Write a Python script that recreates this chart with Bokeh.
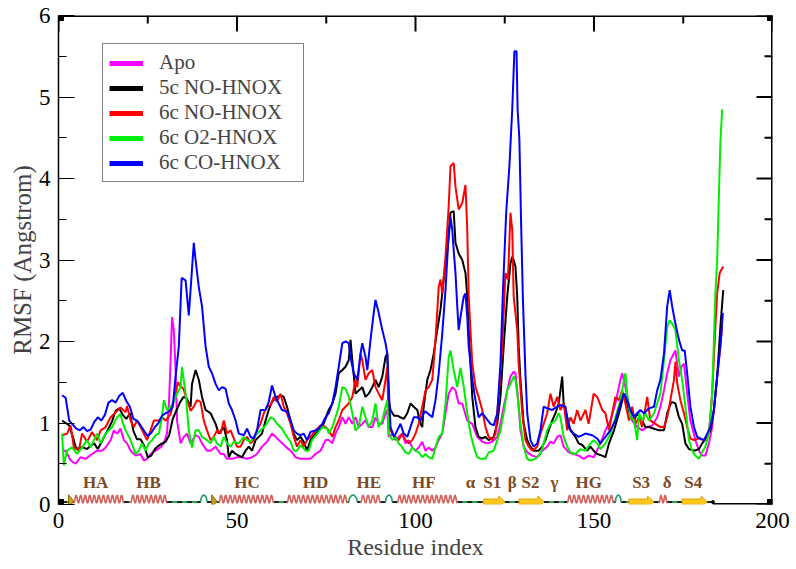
import numpy as np
from bokeh.plotting import figure
from bokeh.models import Range1d, LinearAxis, SingleIntervalTicker, Legend, LegendItem, ColumnDataSource
from bokeh.core.properties import value
from bokeh.embed import file_html
from bokeh.resources import INLINE

# ---------------- data ----------------
apo_x = [1, 2, 3.4, 4.8, 6.2, 7.6, 9.4, 10.8, 12.2, 13.2, 14.6, 15.5, 16.4, 17.4, 18.3, 19.2, 20.2, 21.6, 23, 23.9,
         24.8, 25.8, 27.2, 28.6, 29.5, 30.4, 31, 31.4, 31.8, 32.3, 32.8, 33.2, 34.2, 35.1, 36, 37,
         38.4, 39.3, 40.2, 41.6, 42.6, 44.0, 45.4, 46.3, 47.2, 48.6, 50.0, 51.4, 52.8, 54.2, 55.6, 57.0, 58.4, 59.8,
         60.8, 62.2, 63.6, 65.0, 66.4, 67.8, 69.2, 70.6, 72.0, 73.4, 74.8,
         75.7, 76.7, 77.6, 78.5, 79.5, 80.4, 81.3, 82.3, 83.2, 84.1, 85.1, 86.0, 86.9, 87.9, 88.8, 89.7, 90.7, 91.6,
         92.1, 92.5, 93.5, 94.4, 95.3, 96.3, 97.2, 98.1, 99.1, 100.0, 100.9, 101.9, 102.8, 103.7, 104.7, 105.6, 106.5,
         107.5, 108.4, 109.3, 110.3, 111.2, 112.1, 113.1,
         114.5, 115.9, 117.3, 118.7, 120.1, 121.5, 122.9, 123.8, 124.7, 125.7, 126.6, 127.5, 128.0, 128.7, 129.4,
         130.3, 131.3, 132.7, 134.1, 135.5, 136.9, 137.8, 138.7, 139.7, 140.6, 141.5, 142.9, 144.3, 145.7, 147.1,
         148.5, 149.9,
         151.8, 153.2, 154.6, 156.0, 157.4, 157.9, 158.8, 159.8, 160.7, 162.1, 163.5, 164.9, 166.3, 167.7, 168.6,
         169.6, 170.5, 171.4, 172.8, 173.8, 174.5, 175.2, 176.1, 177.0, 178.4, 179.4, 180.3, 181.2, 182.2, 183.1,
         184.0, 185.0, 185.9]
apo_y = [.66, .66, .54, .50, .58, .56, .62, .66, .66, .70, .79, .91, .87, .93, .79, .75, .66, .60, .62, .54,
         .56, .62, .66, .70, .75, .87, 1.3, 1.77, 2.30, 2.14, 1.65, 1.03, .75, .83, .87, .75,
         .85, .83, .75, .66, .66, .71, .62, .62, .56, .56, .58, .58, .56, .58, .62, .71, .77, .87,
         .83, .77, .71, .66, .58, .56, .56, .56, .62, .66, .79,
         .79, .75, .87, .95, 1.07, .99, 1.07, .99, 1.07, .95, .99, 1.03, .95, .95, 1.07, .99, .99, 1.12,
         1.16, .83, .87, .79, .83, .87, .75, .79, .70, .66, .70, .77, .66, .70, .66, .70, .79,
         .87, 1.12, 1.36, 1.44, 1.40, 1.24, 1.24,
         1.03, .99, .83, .77, .75, .77, .83, .99, 1.20, 1.40, 1.57, 1.63, 1.61, 1.32, .91,
         .71, .64, .60, .58, .66, .71, .77, .75, .83, .85, .71, .64, .62, .60, .56,
         .60, .58,
         .75, .91, 1.03, 1.24, 1.53, 1.61, 1.44, 1.20, 1.03, .95, .91, .95, .97, 1.07, 1.20,
         1.40, 1.61, 1.77, 1.89, 1.57, 1.69, 1.73, 1.36, 1.03, .79, .66, .60, .60, .75, .95,
         1.36, 1.77, 2.18]

no5_x = [1, 2, 3, 4, 5, 6, 7, 8, 9, 10, 11, 12, 13, 14, 15, 16, 17, 18, 19, 20, 21, 22, 23, 24, 25, 26, 27, 28, 29,
         30, 31, 32, 33, 34, 35, 36, 37,
         37.4, 38.4, 39.3, 40.2, 41.2, 42.6, 44.0, 44.9, 46.3, 47.2, 47.7, 48.6, 49.6, 50.5, 51.4, 52.4, 53.3, 54.2,
         55.2, 56.1, 57.0, 58.0, 58.9, 59.8, 61.2, 62.2, 63.1, 64.0, 65.0, 65.9, 66.8, 67.8, 68.7, 69.6, 70.6, 72.0,
         72.9, 73.9,
         75.7, 76.7, 77.6, 78.5, 79.5, 80.4, 81.3, 81.8, 82.3, 83.2, 84.1, 85.1, 86.0, 86.9, 87.9, 88.8, 89.7, 90.7,
         91.6, 92.1, 92.5, 93.0, 94.0, 94.9, 95.8, 96.7, 97.7, 98.6, 99.5, 100.5, 101.4, 101.9, 102.3, 103.3, 104.2,
         105.1, 106.1, 107.0, 107.9, 108.9, 109.8, 110.7, 111.2, 112.1, 113.1, 114.0,
         114.5, 114.9, 115.4, 115.9, 116.8, 117.7, 118.7, 119.6, 120.5, 121.9, 122.9, 123.8, 124.7, 125.7, 126.6,
         127.1, 127.5, 128.0, 128.5, 128.9, 129.4, 130.3, 131.3, 132.2, 133.1, 134.5, 135.5, 136.4, 137.3, 138.3,
         139.2, 140.1, 140.6, 141.1, 141.5, 142.5, 143.4, 144.8, 145.7, 146.7, 148.1, 149.0, 149.9,
         150.9, 152.3, 153.2, 154.2, 155.6, 157.0, 158.4, 159.3, 160.2, 161.2, 162.1, 163.0, 164.4, 165.4, 166.8,
         168.2, 169.6, 170.5, 171.7, 172.8, 173.8, 174.7, 175.6, 176.6, 178.0, 179.4, 180.3, 181.7, 182.6, 183.6,
         184.5, 185.4, 186.2]
no5_y = [1.03, 1.0, .97, .83, .68, .70, .70, .68, .72, .75, .68, .76, .85, .93, 1.02, 1.15, 1.18, 1.10, 1.05, 1.12,
         .90, .80, .80, .72, .58, .60, .68, .72, .75, .77, .85, 1.05, 1.15, 1.25, 1.32, 1.30, 1.20,
         1.48, 1.65, 1.53, 1.32, 1.16, 1.12, .99, .87, .95, .79, .58, .66, .62, .60, .58, .66, .71, .66,
         .79, .83, .87, 1.03, 1.16, 1.26, 1.32, 1.34, 1.32, 1.20, 1.03, .87, .79, .83, .77, .66, .79, .87,
         .91, .95,
         1.16, 1.24, 1.36, 1.61, 1.65, 1.69, 1.77, 2.02, 1.77, 1.36, 1.40, 1.44, 1.32, 1.36, 1.44, 1.53, 1.44, 1.57,
         1.81, 1.85, 1.28, 1.16, 1.09, 1.09, 1.07, 1.05, 1.12, 1.24, 1.20, 1.16, .99, .95, 1.20, 1.53, 1.65,
         1.85, 2.14, 2.39, 2.76, 3.12, 3.58, 3.60, 3.21, 3.08, 3.0, 2.84,
         2.55, 2.14, 1.73, 1.32, .95, .83, .81, .83, .79, .83, .99, 1.32, 1.94, 2.55, 2.96,
         3.04, 3.0, 2.92, 2.55, 1.94, 1.53, .99, .79, .71, .66, .66, .71, .79, .91, 1.03,
         1.12, 1.24, 1.40, 1.57, 1.24, 1.07, .91, .83, .75, .73, .66, .71, .66,
         .62, .60, .58, .75, .91, 1.12, 1.36, 1.24, 1.07, 1.03, 1.12, 1.07, .95, .95, .93,
         .91, .91, 1.12, 1.26, 1.24, 1.07, .99, .75, .68, .66, .68, .75, .83, .91, 1.16,
         1.57, 2.18, 2.63]

no6_x = [1, 2.4, 3.4, 4.3, 5.7, 6.6, 8, 9.4, 10.8, 11.8, 13.2, 14.6, 16, 17.4, 18.8, 19.2, 20.2, 21.1, 22, 23,
         23.9, 24.8, 25.8, 26.7, 28.1, 29, 30, 31.4, 32.8, 33.5, 34.2, 35, 36, 37,
         37.9, 38.8, 39.8, 40.7, 41.6, 42.6, 43.5, 44.4, 45.4, 46.3, 47.2, 48.2, 49.1, 50.0, 51.0, 51.9, 52.8, 53.8,
         54.7, 55.6, 56.6, 57.5, 58.4, 59.4, 60.3, 61.2, 62.2, 63.1, 64.0, 65.0, 65.9, 66.8, 67.8, 68.7, 69.6, 70.6,
         72.0, 73.4, 74.8,
         75.7, 76.7, 77.6, 78.5, 79.5, 80.4, 81.3, 82.3, 83.2, 83.7, 84.6, 85.1, 86.0, 86.9, 87.9, 88.8, 89.7, 90.7,
         91.6, 92.1, 92.5, 93.5, 94.4, 95.3, 96.3, 97.2, 98.1, 99.1, 100.0, 100.9, 101.9, 102.8, 103.7, 104.7, 105.6,
         106.5, 107.0, 107.5, 108.4, 109.3, 109.8, 110.7, 111.2, 112.1, 113.1, 114.0,
         114.5, 114.9, 115.9, 116.8, 117.7, 118.7, 119.6, 120.5, 121.5, 122.4, 123.3, 124.3, 125.2, 125.9, 126.6,
         127.1, 127.5, 128.5, 128.9, 129.9, 130.8, 131.7, 132.7, 134.1, 135.0, 135.9, 136.9, 137.8, 138.7, 139.7,
         140.6, 141.5, 142.5, 143.4, 144.3, 145.3, 146.2, 147.6, 148.5, 149.9, 150.9,
         152.3, 153.2, 154.2, 155.1, 156.0, 157.0, 157.9, 158.8, 159.8, 160.7, 161.6, 162.6, 163.5, 164.9, 165.8,
         167.2, 168.6, 169.6, 170.5, 171.4, 172.4, 172.8, 173.3, 174.2, 175.2, 176.1, 177.0, 178.0, 179.4, 180.8,
         182.2, 183.1, 184.0, 184.5, 185.2, 186.2]
no6_y = [.85, .87, .97, .70, .66, .87, .77, .89, .79, .91, .95, 1.07, 1.13, 1.19, 1.13, 1.21, 1.03, .95, 1.03, .95,
         .87, .79, .91, 1.03, 1.03, 1.07, 1.03, 1.11, 1.36, 1.50, 1.45, 1.42, 1.28, 1.15,
         1.2, 1.28, 1.26, 1.03, .91, .79, .83, .91, .87, 1.03, .87, .91, .81, .71, .71, .79, .83, .75,
         .79, .91, .99, 1.12, 1.2, 1.22, 1.32, 1.26, 1.36, 1.2, 1.12, .99, .83, .71, .79, .71, .79, .83,
         .91, .97, .95,
         .91, .83, .95, 1.03, 1.16, 1.20, 1.24, 1.32, 1.53, 1.44, 1.85, 1.77, 1.53, 1.61, 1.65, 1.44, 1.36, 1.28,
         1.53, 1.69, .95, .87, .83, .79, .87, .79, .75, .79, .87, .99, 1.20, 1.40, 1.44, 1.53, 2.02,
         2.67, 2.76, 2.59, 3.04, 3.66, 4.15, 4.19, 3.90, 3.62, 3.70, 3.92,
         3.37, 2.55, 1.73, 1.44, 1.32, 1.16, .95, .83, .79, .87, 1.32, 1.94, 2.84, 2.76, 3.58,
         3.37, 2.55, 2.14, 1.73, 1.12, .79, .71, .66, .71, .87, .99, 1.12, 1.36, 1.20, 1.32,
         1.16, 1.24, .91, 1.07, .99, 1.16, 1.03, 1.16, .99, 1.36, 1.32,
         1.16, 1.12, .91, 1.12, 1.32, 1.28, 1.40, 1.24, 1.03, 1.20, .99, 1.07, .95, 1.32, 1.03,
         .99, .95, .95, 1.07, 1.28, 1.53, 1.75, 1.49, 1.28, 1.12, .95, .81, .79, .81, .79,
         .87, 1.36, 2.18, 2.59, 2.84, 2.92]

o2_x = [1, 1.5, 2.4, 3.8, 5.2, 6.6, 8, 9, 9.9, 10.8, 11.8, 13.2, 14.1, 15, 16.4, 17.4, 17.8, 18.8, 20.2, 21.6,
        22.5, 23.4, 24.4, 25.3, 26.2, 27.2, 28.1, 29, 29.5, 30.4, 31.4, 32.3, 33.2, 34.2, 34.6, 35.6, 36.5, 37.4,
        38.4, 39.3, 40.2, 41.6, 42.6, 43.5, 44.4, 45.4, 46.3, 47.2, 48.2, 49.1, 50.5, 51.9, 52.8, 53.8, 54.7, 55.6,
        56.6, 58.0, 59.4, 60.3, 61.2, 62.6, 64.0, 65.0, 65.9, 66.8, 67.8, 69.2, 70.1, 71.0, 72.5, 73.9, 75.3,
        75.7, 76.7, 77.6, 78.5, 79.5, 80.4, 81.3, 82.3, 83.2, 84.1, 85.1, 86.0, 86.9, 87.9, 88.8, 89.7, 90.7, 91.6,
        92.1, 92.5, 93.5, 94.4, 95.3, 96.3, 97.2, 98.1, 99.1, 100.0, 100.9, 101.9, 102.8, 103.7, 104.7, 105.6,
        106.5, 107.5, 108.4, 109.3, 109.8, 110.7, 111.7, 112.6, 113.5,
        114.5, 115.4, 116.3, 117.3, 118.2, 119.6, 120.5, 121.9, 122.9, 123.8, 124.7, 125.7, 126.6, 127.5, 128.0,
        128.5, 129.4, 130.3, 131.3, 132.2, 133.6, 135.0, 135.9, 136.9, 137.8, 139.2, 140.1, 140.6, 141.5, 142.5,
        143.4, 144.8, 146.2, 147.6, 149.0, 149.9, 150.9,
        151.8, 153.2, 154.6, 156.0, 157.4, 158.4, 158.8, 159.3, 160.2, 161.2, 162.1, 162.6, 163.5, 164.4, 165.4,
        166.8, 167.7, 168.6, 169.6, 170.5, 171.2, 171.9, 172.8, 173.8, 174.7, 175.6, 176.6, 177.5, 178.4, 179.4,
        180.3, 181.2, 182.2, 183.1, 184.0, 184.5, 185.0, 185.4, 185.9]
o2_y = [.87, .48, .66, .70, .62, .70, .79, .70, .79, .87, .75, .87, .91, .95, 1.07, 1.11, 1.03, .91, .79, .62,
        .66, .75, .66, .75, .79, .85, .87, 1.07, 1.28, 1.16, 1.20, 1.26, 1.36, 1.44, 1.69, 1.36, .91, .70,
        .91, .91, .83, .79, .75, .83, .75, .71, .83, .75, .71, .77, .75, .83, .79, .77, .83, .87,
        .91, .97, 1.07, 1.05, .99, .93, .83, .77, .66, .66, .73, .66, .66, .79, .87, .95, .93,
        .87, .95, 1.07, 1.20, 1.44, 1.42, 1.32, 1.12, .91, .95, 1.20, 1.07, .95, 1.03, 1.24, .95, 1.03, 1.20,
        1.28, .87, .79, .83, .75, .70, .64, .62, .70, .66, .64, .58, .62, .58, .56, .70,
        .83, .87, 1.24, 1.81, 1.89, 1.65, 1.44, 1.68, 1.45,
        1.12, .87, .71, .58, .56, .56, .64, .66, .79, .91, 1.12, 1.40, 1.48, 1.57, 1.53,
        1.36, .99, .71, .56, .54, .56, .62, .75, .91, .99, 1.03, 1.12, 1.07, .83, .71,
        .64, .62, .68, .66, .75, .79, .75,
        .68, .75, .87, 1.07, 1.28, 1.53, 1.61, 1.36, 1.07, 1.03, .79, 1.12, 1.03, 1.12, 1.03,
        1.12, 1.24, 1.36, 1.77, 2.18, 2.26, 2.22, 2.14, 1.77, 1.53, 1.20, .79, .66, .60, .56,
        .64, .71, .87, 1.36, 2.59, 3.0, 3.82, 4.44, 4.85]

co_x = [1, 2, 3, 4, 5, 6, 7, 8, 9, 10, 11, 12, 13, 14, 15, 16, 17, 18, 19, 20, 21, 22, 23, 24, 25, 26, 27, 28, 29,
        30, 31, 32, 32.8, 33.7, 34.5, 35.6, 36.5, 37.9,
        38.4, 39.3, 40.2, 41.2, 42.1, 43.0, 44.0, 44.9, 45.8, 46.8, 47.7, 48.6, 49.6, 50.5, 51.9, 52.8, 53.8, 54.7,
        55.6, 56.6, 58.0, 58.9, 59.8, 60.8, 61.7, 62.6, 64.0, 65.0, 65.9, 66.8, 67.8, 68.7, 69.6, 70.6, 72.0, 72.9,
        73.9,
        74.8, 75.7, 76.7, 77.6, 78.5, 79.5, 80.4, 81.3, 81.8, 82.7, 83.7, 84.6, 85.1, 86.0, 86.5, 87.4, 88.3, 88.8,
        89.7, 90.7, 91.6, 92.1, 92.5, 93.0, 94.0, 94.9, 95.8, 96.7, 97.7, 98.6, 99.5, 100.5, 101.4, 102.3, 102.8,
        104.7, 105.6, 106.5, 107.5, 108.4, 109.1, 109.8, 110.3, 110.7, 111.2, 111.7, 112.1, 112.6, 113.5, 114.0,
        114.5, 114.9, 115.9, 116.8, 117.7, 118.7, 119.6, 121.0, 121.9, 122.9, 123.8, 124.5, 125.4, 126.3, 127.1,
        127.7, 128.3, 128.6, 129.1, 129.6, 130.1, 130.8, 131.3, 132.2, 133.1, 134.1, 135.0, 135.9, 136.9, 138.3,
        139.7, 140.6, 142.0, 142.9, 144.3, 145.7, 147.6, 149.5, 150.9,
        151.8, 153.2, 154.6, 156.0, 157.4, 158.4, 159.3, 160.2, 161.2, 162.1, 163.0, 164.0, 165.4, 166.8, 167.7,
        168.6, 169.6, 170.5, 171.2, 171.9, 172.8, 173.8, 174.7, 175.4, 176.1, 177.0, 178.0, 178.9, 179.8, 180.8,
        181.7, 182.6, 183.6, 184.5, 185.4, 186.1]
co_y = [1.34, 1.31, 1.03, .98, .93, .91, .95, .90, .92, 1.01, 1.07, 1.03, 1.10, 1.25, 1.28, 1.25, 1.33, 1.37, 1.27,
        1.20, 1.05, 1.03, .97, .90, .84, .88, .95, 1.00, 1.09, 1.12, 1.14, 1.20, 1.57, 1.94, 2.78, 2.75, 2.32, 3.21,
        3.0, 2.67, 2.43, 1.94, 1.69, 1.61, 1.48, 1.40, 1.44, 1.42, 1.24, 1.16, 1.03, .87, .85, .93, .83, .81,
        .91, 1.16, 1.16, 1.26, 1.46, 1.32, 1.24, 1.16, 1.14, 1.03, .91, .87, .85, .87, .79, .89, .91, .93,
        .99,
        1.07, 1.12, 1.24, 1.44, 1.69, 1.98, 2.0, 1.98, 1.81, 1.61, 1.53, 1.85, 1.98, 1.81, 1.65, 2.02, 2.35, 2.51,
        2.35, 2.14, 1.98, 1.85, 1.44, .95, .83, .91, .99, .87, .83, .95, 1.07, 1.07, 1.03, 1.12, 1.14,
        1.07, 1.28, 1.61, 2.10, 2.63, 3.17, 3.53, 3.37, 3.12, 2.84, 2.43, 2.14, 2.30, 2.55, 2.59,
        2.30, 1.94, 1.53, 1.28, 1.07, 1.12, 1.07, .99, .97, 1.12, 1.73, 2.63, 3.58, 4.15, 4.85,
        5.56, 5.56, 4.85, 4.48, 3.41, 2.50, 1.60, 1.12, .79, .71, .75, .91, 1.20, 1.18, 1.16,
        1.20, 1.22, 1.20, .95, .87, .83, .87, .85, .81,
        .75, .83, .91, 1.03, 1.24, 1.36, 1.28, 1.16, 1.07, 1.12, 1.16, 1.12, 1.18, 1.20, 1.40,
        1.53, 1.85, 2.43, 2.63, 2.43, 2.22, 2.02, 1.89, 1.89, 1.61, 1.20, .95, .83, .81, .79,
        .87, .95, 1.16, 1.57, 1.94, 2.35]

series_names = ["Apo", "5c NO-HNOX", "6c NO-HNOX", "6c O2-HNOX", "6c CO-HNOX"]
series_colors = ["#ff00ff", "#000000", "#ff0000", "#00ee00", "#0000ff"]

# secondary-structure annotation (residue ranges)
ss_start, ss_end = 1.0, 183.3
helix_ranges = [(4.3, 18.3), (20.2, 30.4), (44.9, 60.3), (64.0, 80.9), (84.6, 90.2), (94.9, 111.7),
                (142.5, 155.5), (168.2, 170.5)]
strand_ranges = [(119.1, 125.0), (129.0, 136.0), (159.8, 166.7), (174.7, 181.7)]
turn_ranges = [(39.8, 41.6), (81.3, 83.7), (91.6, 93.5), (156.0, 157.6)]
cap_positions = [3.5, 43.6]
ss_labels = ["HA", "HB", "HC", "HD", "HE", "HF", "α", "S1", "β", "S2", "γ", "HG", "S3", "δ", "S4"]
ss_label_x = [10.4, 25.2, 52.8, 72.0, 86.9, 102.3, 115.4, 121.5, 127.1, 132.2, 138.9, 148.5, 163.2, 170.5, 177.8]

# ---------------- figure ----------------
SERIF = "Liberation Serif"
W, H = 796, 569
BL, BR, BT, BB = 58, 24, 15, 65
FW, FH = W - BL - BR, H - BT - BB
X0, X1, Y0, Y1 = 0, 200, 0, 6
INK = "#000000"

p = figure(width=W, height=H, output_backend="svg", toolbar_location=None,
           x_range=Range1d(X0, X1), y_range=Range1d(Y0, Y1),
           x_axis_location=None, y_axis_location=None,
           min_border_left=BL, min_border_right=BR, min_border_top=BT, min_border_bottom=BB)
p.outline_line_color = None
p.xgrid.visible = False
p.ygrid.visible = False

left = LinearAxis(ticker=SingleIntervalTicker(interval=1, num_minor_ticks=2))
left.axis_line_color = INK
left.axis_line_width = 1.5
left.major_tick_line_color = INK
left.minor_tick_line_color = INK
left.major_tick_in = 16
left.major_tick_out = 0
left.minor_tick_in = 8
left.minor_tick_out = 0
left.major_label_text_font = SERIF
left.major_label_text_font_size = "23px"
left.major_label_text_color = "black"
left.major_label_standoff = 8
left.axis_label = "RMSF (Angstrom)"
left.axis_label_text_font = SERIF
left.axis_label_text_font_size = "25px"
left.axis_label_text_font_style = "normal"
left.axis_label_standoff = 0
p.add_layout(left, "left")

bottom = LinearAxis(ticker=SingleIntervalTicker(interval=50))
bottom.axis_line_color = None
bottom.major_tick_line_color = None
bottom.minor_tick_line_color = None
bottom.major_tick_in = 0
bottom.major_tick_out = 0
bottom.minor_tick_in = 0
bottom.minor_tick_out = 0
bottom.major_label_text_font = SERIF
bottom.major_label_text_font_size = "23px"
bottom.major_label_text_color = "black"
bottom.major_label_standoff = 8
bottom.axis_label = "Residue index"
bottom.axis_label_text_font = SERIF
bottom.axis_label_text_font_size = "24px"
bottom.axis_label_text_font_style = "normal"
bottom.axis_label_standoff = 3
p.add_layout(bottom, "below")

# frame lines (top, right, bottom piece after the cartoon) plus inward ticks, one renderer
px_x = (X1 - X0) / FW
px_y = (Y1 - Y0) / FH
x_major = np.arange(X0, X1 + 1, 50)
x_minor = np.arange(X0 + 25, X1, 50)
y_major = np.arange(Y0, Y1 + 0.01, 1.0)
y_minor = np.arange(Y0 + 0.5, Y1, 1.0)
fr_xs = [[X0, X1], [X1, X1], [ss_end, X1]]
fr_ys = [[Y1, Y1], [Y0, Y1], [Y0, Y0]]
fr_w = [3, 3, 3]
for ys, L in ((y_major, 16), (y_minor, 8)):
    for yv in ys:
        yv = float(yv)
        fr_xs.append([X1 - L * px_x, X1]); fr_ys.append([yv, yv]); fr_w.append(2)
for xs_, L in ((x_major, 16), (x_minor, 8)):
    for xv in xs_:
        xv = float(xv)
        fr_xs.append([xv, xv]); fr_ys.append([Y1 - L * px_y, Y1]); fr_w.append(2)
p.multi_line(xs="xs", ys="ys", line_width="w", line_color=INK,
             source=ColumnDataSource(dict(xs=fr_xs, ys=fr_ys, w=fr_w)))

# ---------------- curves ----------------
# legend swatches: thick lines placed beyond the visible range (never shown in the plot area)
swatch_x = [X1 + 10, X1 + 20]
swatch_y = [Y1 + 1, Y1 + 1]
all_x = [apo_x, no5_x, no6_x, o2_x, co_x]
all_y = [apo_y, no5_y, no6_y, o2_y, co_y]
items = []
for name, xs, ys, c in zip(series_names, all_x, all_y, series_colors):
    p.line(xs, ys, line_color=c, line_width=2)
    swatch = p.line(swatch_x, swatch_y, line_color=c, line_width=5)
    items.append(LegendItem(label=name, renderers=[swatch]))

legend = Legend(items=items, location=(44, 322))
legend.border_line_color = "black"
legend.border_line_width = 1.2
legend.background_fill_color = "white"
legend.background_fill_alpha = 1.0
legend.label_text_font = SERIF
legend.label_text_font_size = "21px"
legend.glyph_width = 34
legend.glyph_height = 22
legend.label_height = 22
legend.label_width = 138
legend.label_standoff = 16
legend.padding = 6
legend.spacing = 0
legend.margin = 0
p.add_layout(legend)

# ---------------- secondary-structure cartoon ----------------
base = 0.03
occupied = sorted(helix_ranges + strand_ranges + turn_ranges)
coil_xs, coil_ys = [], []
cur = ss_start
for s, e in occupied:
    if s > cur:
        coil_xs.append([cur, s]); coil_ys.append([base, base])
    cur = max(cur, e)
if cur < ss_end:
    coil_xs.append([cur, ss_end]); coil_ys.append([base, base])
p.multi_line(coil_xs, coil_ys, line_color="#2aa84a", line_width=2)
p.multi_line(coil_xs, coil_ys, line_color="#222222", line_width=2, line_dash="5 5")

hx_xs, hx_ys = [], []
for s, e in helix_ranges:
    n = max(1, int(round((e - s) / 1.3)))
    t = np.linspace(0, n, n * 12 + 1)
    hx_xs.append(list(s + (e - s) * t / n))
    hx_ys.append(list(0.065 - 0.048 * np.cos(2 * np.pi * t)))
p.multi_line(hx_xs, hx_ys, line_color="#d4605a", line_width=1.6)

tn_xs, tn_ys = [], []
for s, e in turn_ranges:
    t = np.linspace(0, 1, 21)
    tn_xs.append(list(s + (e - s) * t))
    tn_ys.append(list(base + 0.085 * np.sin(np.pi * t) ** 0.5))
p.multi_line(tn_xs, tn_ys, line_color="#1f9e6a", line_width=1.6)

st_xs, st_ys = [], []
c0, bw, hw, hl = 0.035, 0.032, 0.068, 1.7
for s, e in strand_ranges:
    st_xs.append([s, e - hl, e - hl, e, e - hl, e - hl, s])
    st_ys.append([c0 - bw, c0 - bw, c0 - hw, c0, c0 + hw, c0 + bw, c0 + bw])
p.patches(st_xs, st_ys, fill_color="#ffc81e", line_color="#e0a000", line_width=1)

# arrow caps of the cartoon and black corner handles, one renderer
pc_xs, pc_ys, pc_fill, pc_line = [], [], [], []
for x in cap_positions:
    pc_xs.append([x - 0.7, x + 0.8, x - 0.7])
    pc_ys.append([base - 0.07, base + 0.01, base + 0.09])
    pc_fill.append("#c9a020"); pc_line.append("#8a6d00")
hx_, hy_ = 5 * px_x, 5 * px_y
for cx in (X0, X1):
    for cy in (Y0, Y1):
        pc_xs.append([cx - hx_, cx + hx_, cx + hx_, cx - hx_])
        pc_ys.append([cy - hy_, cy - hy_, cy + hy_, cy + hy_])
        pc_fill.append("black"); pc_line.append("black")
p.patches(xs="xs", ys="ys", fill_color="f", line_color="l", line_width=1,
          source=ColumnDataSource(dict(xs=pc_xs, ys=pc_ys, f=pc_fill, l=pc_line)))

p.scatter([ss_end], [base], size=3, color=INK)

p.text(x=ss_label_x, y=[0.27] * len(ss_label_x), text=ss_labels,
       text_font=value("Liberation Sans Narrow"), text_font_style="bold", text_font_size="17px",
       text_color="#7b4a26", text_align="center", text_baseline="middle")

open("out.html", "w").write(file_html(p, INLINE))
